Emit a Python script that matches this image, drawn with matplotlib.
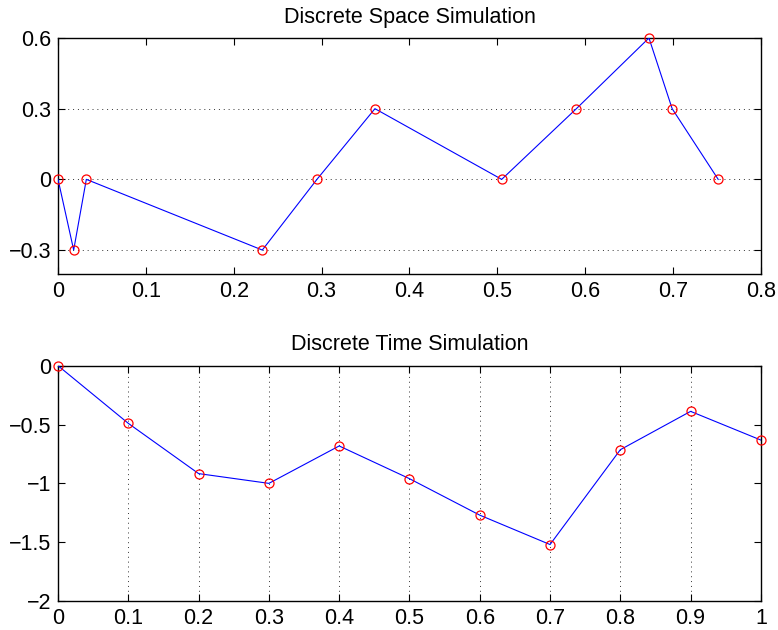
import matplotlib
matplotlib.use("Agg")
import matplotlib.pyplot as plt

plt.rcParams['font.family'] = ['Liberation Sans', 'DejaVu Sans']

# Discrete Space Simulation data
space_x = [0.0, 0.0178, 0.0322, 0.2325, 0.2947, 0.3607, 0.505, 0.590, 0.6726, 0.699, 0.7514]
space_y = [0.0, -0.3, 0.0, -0.3, 0.0, 0.3, 0.0, 0.3, 0.6, 0.3, 0.0]
space_xticks = [0, 0.1, 0.2, 0.3, 0.4, 0.5, 0.6, 0.7, 0.8]
space_xticklabels = ["0", "0.1", "0.2", "0.3", "0.4", "0.5", "0.6", "0.7", "0.8"]
space_yticks = [-0.3, 0, 0.3, 0.6]
space_yticklabels = ["\u22120.3", "0", "0.3", "0.6"]

# Discrete Time Simulation data
time_x = [0.0, 0.1, 0.2, 0.3, 0.4, 0.5, 0.6, 0.7, 0.8, 0.9, 1.0]
time_y = [0.0, -0.49, -0.917, -1.0, -0.682, -0.96, -1.27, -1.52, -0.714, -0.388, -0.632]
time_xticks = [0, 0.1, 0.2, 0.3, 0.4, 0.5, 0.6, 0.7, 0.8, 0.9, 1.0]
time_xticklabels = ["0", "0.1", "0.2", "0.3", "0.4", "0.5", "0.6", "0.7", "0.8", "0.9", "1"]
time_yticks = [-2, -1.5, -1, -0.5, 0]
time_yticklabels = ["\u22122", "\u22121.5", "\u22121", "\u22120.5", "0"]

fig = plt.figure(figsize=(7.78, 6.3), dpi=100)
ax1 = fig.add_axes([0.0746, 0.5657, 0.9034, 0.3740])
ax2 = fig.add_axes([0.0746, 0.0460, 0.9034, 0.3735])

FS = 15.5

def style(ax):
    for s in ax.spines.values():
        s.set_linewidth(1.0)
    ax.tick_params(direction='in', length=5, width=0.8, top=True, right=True,
                   labelsize=FS, pad=5)

# top
ax1.plot(space_x, space_y, color='blue', lw=0.8, zorder=3)
ax1.plot(space_x, space_y, ls='none', marker='o', mfc='none', mec='red',
         ms=6.5, mew=0.9, zorder=4, clip_on=False)
ax1.set_xlim(0, 0.8)
ax1.set_ylim(-0.4, 0.6)
ax1.set_xticks(space_xticks)
ax1.set_xticklabels(space_xticklabels)
ax1.set_yticks(space_yticks)
ax1.set_yticklabels(space_yticklabels)
ax1.yaxis.grid(True, linestyle=(0, (1, 4)), color='#333333', lw=0.7)
ax1.set_title("Discrete Space Simulation", fontsize=FS, pad=11)
style(ax1)

# bottom
ax2.plot(time_x, time_y, color='blue', lw=0.8, zorder=3)
ax2.plot(time_x, time_y, ls='none', marker='o', mfc='none', mec='red',
         ms=6.5, mew=0.9, zorder=4, clip_on=False)
ax2.set_xlim(0, 1)
ax2.set_ylim(-2, 0)
ax2.set_xticks(time_xticks)
ax2.set_xticklabels(time_xticklabels)
ax2.set_yticks(time_yticks)
ax2.set_yticklabels(time_yticklabels)
ax2.xaxis.grid(True, linestyle=(0, (1, 4)), color='#333333', lw=0.7)
ax2.set_title("Discrete Time Simulation", fontsize=FS, pad=11)
style(ax2)

fig.savefig("out.png", dpi=100)
